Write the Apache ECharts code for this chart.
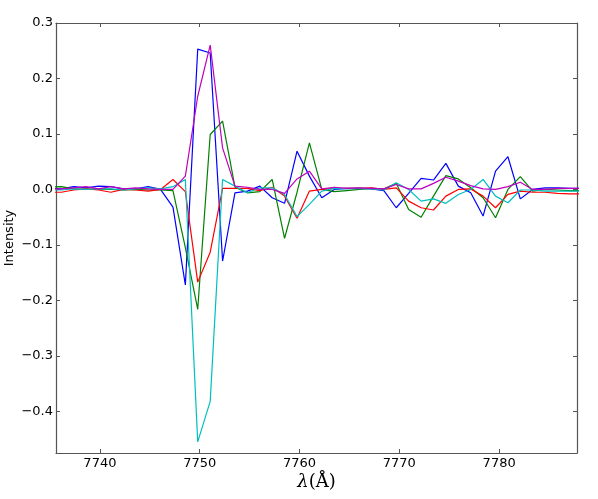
<!DOCTYPE html>
<html>
<head>
<meta charset="utf-8">
<script src="https://cdn.jsdelivr.net/npm/echarts@6/dist/echarts.min.js"></script>
<style>
html,body{margin:0;padding:0;background:#fff;}
#chart{width:598px;height:499px;}
</style>
</head>
<body>
<div id="chart"></div>
<script>
// Wavelength samples (Å)
var wavelengths = [7734.89,7736.13,7737.37,7738.62,7739.86,7741.10,7742.35,7743.59,7744.83,7746.07,
  7747.32,7748.56,7749.80,7751.05,7752.29,7753.53,7754.78,7756.02,7757.26,7758.50,
  7759.75,7760.99,7762.23,7763.48,7764.72,7765.96,7767.21,7768.45,7769.69,7770.93,
  7772.18,7773.42,7774.66,7775.91,7777.15,7778.39,7779.64,7780.88,7782.12,7783.36,
  7784.61,7785.85,7787.09,7788.34];

var blueVals = [0.002,0.001,0.005,0.003,0.006,0.005,0.001,0.001,0.005,0.000,
  -0.032,-0.172,0.253,0.246,-0.129,-0.006,-0.003,0.006,-0.015,-0.025,
  0.069,0.024,-0.015,0.000,0.002,0.002,0.001,-0.002,-0.033,-0.007,
  0.020,0.017,0.047,0.006,-0.006,-0.048,0.033,0.059,-0.017,0.000,
  0.003,0.003,0.002,0.002];

var greenVals = [0.004,0.005,0.001,0.000,0.001,0.000,-0.001,0.000,-0.001,-0.001,
  -0.002,-0.105,-0.216,0.099,0.123,0.004,-0.006,-0.004,0.018,-0.088,
  -0.005,0.084,0.000,-0.004,-0.002,0.000,0.002,0.001,0.011,-0.036,
  -0.050,-0.012,0.025,0.019,0.003,-0.015,-0.051,0.000,0.023,-0.003,
  0.000,-0.001,-0.002,-0.002];

var redVals = [-0.005,-0.005,-0.001,0.001,-0.001,-0.005,0.000,-0.001,-0.003,0.000,
  0.018,-0.004,-0.167,-0.113,0.002,0.002,0.002,-0.002,0.004,-0.012,
  -0.052,-0.003,0.000,0.002,0.002,0.002,0.003,0.000,0.003,-0.021,
  -0.033,-0.037,-0.012,0.000,0.001,-0.012,-0.033,-0.009,-0.003,-0.005,
  -0.005,-0.007,-0.008,-0.008];

var cyanVals = [-0.001,-0.001,0.001,0.000,0.001,0.001,-0.001,0.001,0.003,0.001,
  0.005,0.018,-0.455,-0.382,0.018,0.006,-0.006,0.003,0.003,-0.009,
  -0.049,-0.027,-0.003,0.002,0.001,0.002,0.001,-0.001,0.012,0.000,
  -0.021,-0.017,-0.025,-0.009,0.000,0.018,-0.012,-0.024,-0.001,-0.001,
  -0.003,-0.003,-0.003,-0.003];

var magentaVals = [0.001,0.001,0.003,0.005,0.001,0.005,0.001,0.003,0.001,0.000,
  0.000,0.024,0.168,0.260,0.075,0.006,0.004,0.000,0.000,-0.007,
  0.019,0.033,0.001,0.004,0.002,0.003,0.002,0.001,0.009,0.001,
  0.001,0.011,0.022,0.015,0.007,0.001,0.000,0.005,0.013,0.000,
  0.000,0.002,0.002,0.002];

var xTicks = [7740,7750,7760,7770,7780];
var yTicks = [-0.4,-0.3,-0.2,-0.1,0.0,0.1,0.2,0.3];

var seriesDefs = [
  {name:'s1', values: blueVals, color:'#0000ff'},
  {name:'s2', values: greenVals, color:'#008000'},
  {name:'s3', values: redVals, color:'#ff0000'},
  {name:'s4', values: cyanVals, color:'#00bfbf'},
  {name:'s5', values: magentaVals, color:'#bf00bf'}
];

var X_MIN = 7735.6, X_MAX = 7787.8, Y_MIN = -0.475, Y_MAX = 0.3;
var frameColor = '#555';
var font = 'DejaVu Sans';

function fmtY(v){
  var s = Math.abs(v).toFixed(1);
  return (v < -1e-9 ? '\u2212' : '') + s;
}

var chart = echarts.init(document.getElementById('chart'), null, {renderer:'canvas'});
var option = {
  animation:false,
  backgroundColor:'#fff',
  grid:{left:56, right:21, top:23, bottom:46, containLabel:false, outerBoundsMode:'none'},
  xAxis:[{
    type:'value', min:X_MIN, max:X_MAX, position:'bottom',
    name:'{i|\u03bb}{n|(\u00c5)}', nameLocation:'middle', nameGap:20, nameMoveOverlap:false,
    nameTextStyle:{rich:{
      i:{fontFamily:'DejaVu Serif', fontStyle:'italic', fontSize:18, color:'#000'},
      n:{fontFamily:'DejaVu Serif', fontSize:18, color:'#000'}
    }},
    axisLine:{show:true, onZero:false, lineStyle:{color:frameColor, width:1.2}},
    axisTick:{show:true, inside:true, length:4, customValues:xTicks, lineStyle:{color:frameColor}},
    axisLabel:{customValues:xTicks, margin:4, fontFamily:font, fontSize:13, color:'#000',
      formatter:function(v){return String(Math.round(v));}},
    splitLine:{show:false}
  },{
    type:'value', min:X_MIN, max:X_MAX, position:'top',
    axisLine:{show:true, onZero:false, lineStyle:{color:frameColor, width:1.2}},
    axisTick:{show:true, inside:true, length:4, customValues:xTicks, lineStyle:{color:frameColor}},
    axisLabel:{show:false}, splitLine:{show:false}
  }],
  yAxis:[{
    type:'value', min:Y_MIN, max:Y_MAX, position:'left',
    name:'Intensity', nameLocation:'middle', nameGap:40, nameMoveOverlap:false,
    nameTextStyle:{fontFamily:font, fontSize:13, color:'#000'},
    axisLine:{show:true, onZero:false, lineStyle:{color:frameColor, width:1.2}},
    axisTick:{show:true, inside:true, length:4, customValues:yTicks, lineStyle:{color:frameColor}},
    axisLabel:{customValues:yTicks, margin:3, fontFamily:font, fontSize:13, color:'#000',
      formatter:fmtY},
    splitLine:{show:false}
  },{
    type:'value', min:Y_MIN, max:Y_MAX, position:'right',
    axisLine:{show:true, onZero:false, lineStyle:{color:frameColor, width:1.2}},
    axisTick:{show:true, inside:true, length:4, customValues:yTicks, lineStyle:{color:frameColor}},
    axisLabel:{show:false}, splitLine:{show:false}
  }],
  series: seriesDefs.map(function(d){
    return {
      name:d.name, type:'line', xAxisIndex:0, yAxisIndex:0,
      data: wavelengths.map(function(w,i){return [w, d.values[i]];}),
      showSymbol:false, symbol:'none', clip:true,
      lineStyle:{color:d.color, width:1.2},
      itemStyle:{color:d.color}
    };
  })
};
chart.setOption(option);
</script>
</body>
</html>
